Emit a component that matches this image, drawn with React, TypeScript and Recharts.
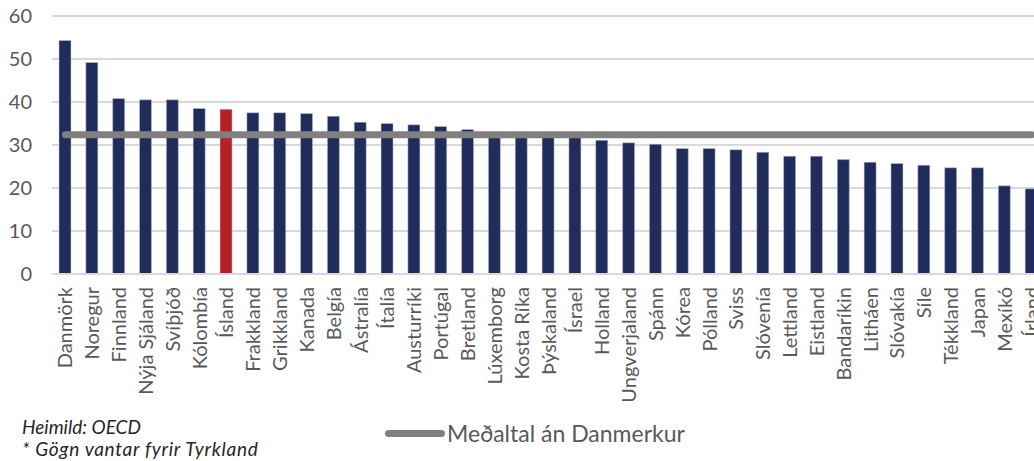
import { ComposedChart, Bar, Line, Cell, XAxis, YAxis, CartesianGrid } from "recharts";

const countries = [
  "Danmörk", "Noregur", "Finnland", "Nýja Sjáland", "Svíþjóð", "Kólombía", "Ísland",
  "Frakkland", "Grikkland", "Kanada", "Belgía", "Ástralía", "Ítalía", "Austurríki",
  "Portúgal", "Bretland", "Lúxemborg", "Kosta Ríka", "Þýskaland", "Ísrael", "Holland",
  "Ungverjaland", "Spánn", "Kórea", "Pólland", "Sviss", "Slóvenía", "Lettland",
  "Eistland", "Bandaríkin", "Litháen", "Slóvakía", "Síle", "Tékkland", "Japan",
  "Mexíkó", "Írland",
];

const values = [
  54.3, 49.2, 40.8, 40.5, 40.5, 38.5, 38.3, 37.5, 37.5, 37.3, 36.7, 35.3, 35.0,
  34.7, 34.3, 33.6, 32.5, 32.2, 32.0, 31.8, 31.1, 30.5, 30.2, 29.2, 29.2, 28.9,
  28.3, 27.4, 27.4, 26.6, 26.0, 25.7, 25.3, 24.7, 24.7, 20.5, 19.8,
];

// average excluding Denmark
const average = 32.4;
const yTicks = [0, 10, 20, 30, 40, 50, 60];
const highlight = "Ísland";

const data = countries.map((name, i) => ({ name, value: values[i], avg: average }));

const FONT = "Lato, 'Open Sans', sans-serif";
const GREY_TEXT = "#595959";

const XTick = ({ x, y, payload }: any) => (
  <g transform={`translate(${x},${y})`}>
    <text
      transform="rotate(-90)"
      x={-5}
      y={0}
      dy="0.35em"
      textAnchor="end"
      fill={GREY_TEXT}
      fontSize={20}
      fontFamily={FONT}
    >
      {payload.value}
    </text>
  </g>
);

export default function App() {
  return (
    <div
      style={{
        position: "absolute",
        left: 0,
        top: 0,
        width: 1034,
        height: 461,
        overflow: "hidden",
        background: "#fff",
      }}
    >
      <ComposedChart
        width={1050}
        height={461}
        data={data}
        margin={{ top: 16, right: 5, left: 0, bottom: 67 }}
        barCategoryGap={0}
      >
        <CartesianGrid vertical={false} stroke="#d9d9d9" strokeWidth={2} />
        <XAxis
          dataKey="name"
          interval={0}
          height={120}
          tick={<XTick />}
          tickLine={false}
          axisLine={{ stroke: "#d9d9d9", strokeWidth: 2 }}
        />
        <YAxis
          domain={[0, 60]}
          ticks={yTicks}
          width={52}
          axisLine={false}
          tickLine={false}
          tickMargin={14}
          tick={{ fill: GREY_TEXT, fontSize: 20, fontFamily: FONT }}
        />
        <Bar dataKey="value" barSize={12} isAnimationActive={false} stroke="#c5c9d8" strokeWidth={0.5}>
          {data.map((d) => (
            <Cell key={d.name} fill={d.name === highlight ? "#b52226" : "#1f2c5c"} />
          ))}
        </Bar>
        <Line
          dataKey="avg"
          type="linear"
          stroke="#808080"
          strokeWidth={7}
          strokeLinecap="round"
          dot={false}
          activeDot={false}
          isAnimationActive={false}
        />
      </ComposedChart>
      {/* legend */}
      <div
        style={{
          position: "absolute",
          left: 385,
          top: 419,
          display: "flex",
          alignItems: "center",
          fontFamily: FONT,
        }}
      >
        <span
          style={{
            display: "inline-block",
            width: 60,
            height: 7,
            borderRadius: 4,
            background: "#808080",
            marginRight: 2,
          }}
        />
        <span style={{ fontSize: 23, lineHeight: "28px", color: GREY_TEXT }}>Meðaltal án Danmerkur</span>
      </div>
      <div
        style={{
          position: "absolute",
          left: 22,
          top: 416,
          fontFamily: FONT,
          fontStyle: "italic",
          fontSize: 19,
          lineHeight: "22px",
          color: "#262626",
        }}
      >
        <div>Heimild: OECD</div>
        <div style={{ letterSpacing: 0.7 }}>* Gögn vantar fyrir Tyrkland</div>
      </div>
    </div>
  );
}
